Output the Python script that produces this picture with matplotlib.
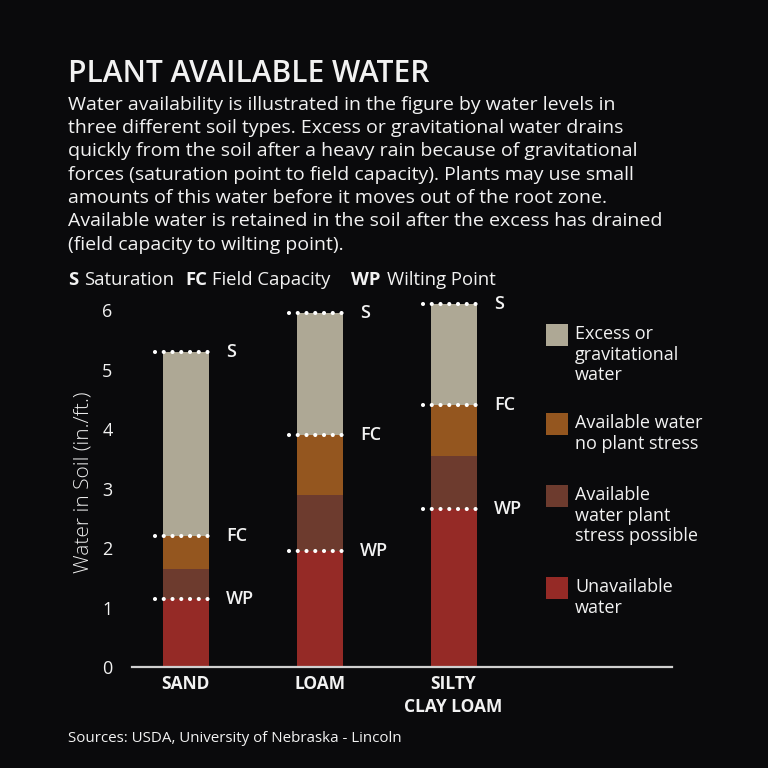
import numpy as np
import matplotlib.pyplot as plt
from matplotlib.patches import Rectangle

# data
soils = ["SAND", "LOAM", "SILTY\nCLAY LOAM"]
wilting = [1.15, 1.95, 2.65]
stress_top = [1.65, 2.9, 3.55]
field_cap = [2.2, 3.9, 4.4]
saturation = [5.3, 5.95, 6.1]
y_ticks = [0, 1, 2, 3, 4, 5, 6]

legend_labels = [
    "Excess or\ngravitational\nwater",
    "Available water\nno plant stress",
    "Available\nwater plant\nstress possible",
    "Unavailable\nwater",
]
colors = ["#aea895", "#94561f", "#6d3b2e", "#952a26"]

BG = "#0a0a0c"
FG = "#f2f2f2"
FONT = "Open Sans"

plt.rcParams["font.family"] = [FONT, "DejaVu Sans"]

fig = plt.figure(figsize=(7.68, 7.68), dpi=100, facecolor=BG)

# title and intro
fig.text(68 / 768, 1 - 74 / 768, "PLANT AVAILABLE WATER", color=FG,
         fontsize=21.5, fontweight="semibold", va="center", ha="left")
body = ("Water availability is illustrated in the figure by water levels in\n"
        "three different soil types. Excess or gravitational water drains\n"
        "quickly from the soil after a heavy rain because of gravitational\n"
        "forces (saturation point to field capacity). Plants may use small\n"
        "amounts of this water before it moves out of the root zone.\n"
        "Available water is retained in the soil after the excess has drained\n"
        "(field capacity to wilting point).")
fig.text(68 / 768, 1 - 96 / 768, body, color=FG, fontsize=14,
         va="top", ha="left", linespacing=1.375)

# key line
key = [("S", True, 68), ("Saturation", False, 84), ("FC", True, 185),
       ("Field Capacity", False, 212), ("WP", True, 351), ("Wilting Point", False, 387)]
for txt, bold, px in key:
    fig.text(px / 768, 1 - 280 / 768, txt, color=FG, fontsize=13.3,
             fontweight="bold" if bold else "normal", va="center", ha="left")

# chart
ax = fig.add_axes([132 / 768, 1 - 667 / 768, 540 / 768, (667 - 298.4) / 768])
ax.set_facecolor(BG)
x = np.arange(len(soils))
w = 0.343

unavail = np.array(wilting)
possible = np.array(stress_top) - np.array(wilting)
nostress = np.array(field_cap) - np.array(stress_top)
excess = np.array(saturation) - np.array(field_cap)

ax.bar(x, unavail, w, color=colors[3], zorder=2)
ax.bar(x, possible, w, bottom=unavail, color=colors[2], zorder=2)
ax.bar(x, nostress, w, bottom=np.array(stress_top), color=colors[1], zorder=2)
ax.bar(x, excess, w, bottom=np.array(field_cap), color=colors[0], zorder=2)

# dotted level markers
half = 0.23
for i in range(len(soils)):
    for val, lab in [(saturation[i], "S"), (field_cap[i], "FC"), (wilting[i], "WP")]:
        ax.plot([x[i] - half, x[i] + half], [val, val], color="white", lw=3.0,
                linestyle=(0, (0.001, 2.1)), dash_capstyle="round", zorder=3)
        ax.text(x[i] + 0.3, val, lab, color=FG, fontsize=13, fontweight="semibold",
                va="center", ha="left")

ax.set_xlim(-0.4, 3.63)
ax.set_ylim(0, 6.2)
ax.set_yticks(y_ticks)
ax.set_yticklabels([str(v) for v in y_ticks])
ax.set_xticks(x)
ax.set_xticklabels(soils, fontweight="bold", linespacing=1.35)
ax.tick_params(axis="y", length=0, pad=14, labelsize=13, labelcolor=FG)
ax.tick_params(axis="x", length=0, pad=6, labelsize=12.5, labelcolor=FG)
for s in ["top", "right", "left"]:
    ax.spines[s].set_visible(False)
ax.spines["bottom"].set_color("#d0d0d0")
ax.spines["bottom"].set_linewidth(1.6)
ax.set_ylabel("Water in Soil (in./ft.)", color="#ececec", fontsize=15,
              fontweight="light", labelpad=6)

# legend drawn by hand
box_tops = [324, 413, 485, 577]
for lab, col, top in zip(legend_labels, colors, box_tops):
    fig.patches.append(Rectangle((546 / 768, 1 - (top + 21.5) / 768), 21.5 / 768, 21.5 / 768,
                                 transform=fig.transFigure, facecolor=col, edgecolor="none"))
    fig.text(575 / 768, 1 - (top + 1) / 768, lab, color=FG, fontsize=13,
             va="top", ha="left", linespacing=1.18)

fig.text(68 / 768, 1 - 738 / 768, "Sources: USDA, University of Nebraska - Lincoln",
         color=FG, fontsize=10.9, va="center", ha="left")

fig.savefig("out.png", dpi=100, facecolor=BG)
